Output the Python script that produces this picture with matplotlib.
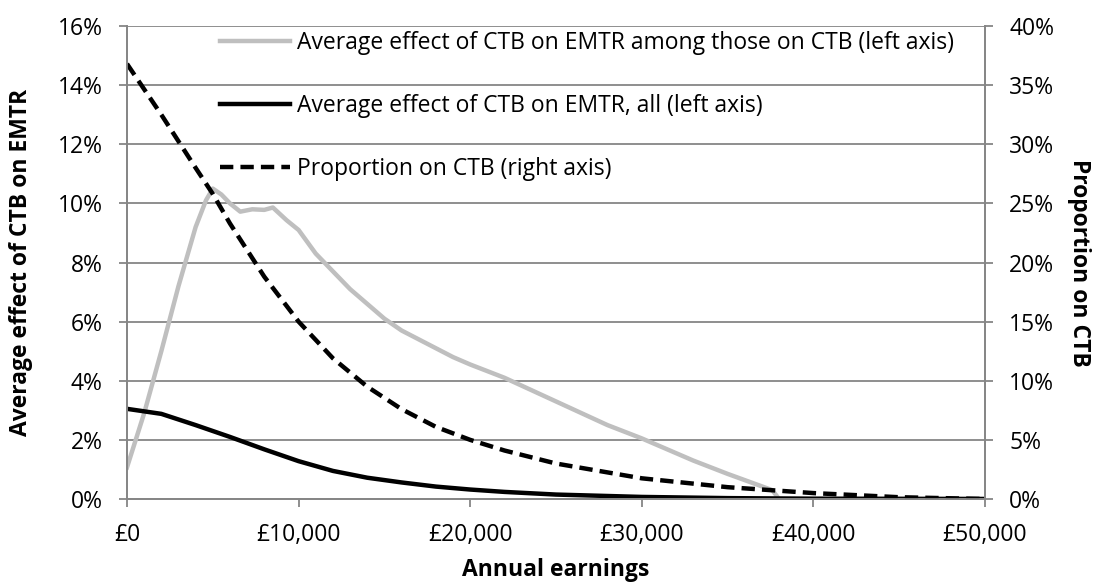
import numpy as np
import matplotlib
matplotlib.use("Agg")
import matplotlib.pyplot as plt
from matplotlib.ticker import FuncFormatter, MultipleLocator

plt.rcParams['font.family'] = ['Open Sans', 'DejaVu Sans']

# Average effect of CTB on EMTR among those on CTB (left axis, %)
earn_among = [0, 1000, 2000, 3000, 4000, 4600, 5000, 5500, 6000, 6600, 7300,
              8000, 8500, 9300, 10000, 11000, 12000, 13000, 14000, 15000,
              16000, 17000, 18000, 19000, 20000, 22000, 25000, 28000, 30000,
              33000, 35000, 37600, 38000, 50000]
emtr_among = [1.07, 2.9, 5.0, 7.2, 9.2, 10.1, 10.5, 10.3, 10.0, 9.72, 9.8,
              9.78, 9.86, 9.43, 9.1, 8.3, 7.7, 7.1, 6.6, 6.1,
              5.7, 5.4, 5.1, 4.8, 4.55, 4.1, 3.3, 2.5, 2.05,
              1.3, 0.85, 0.3, 0.0, 0.0]

# Average effect of CTB on EMTR, all (left axis, %)
earn_all = [0, 2000, 4000, 6000, 8000, 10000, 12000, 14000, 16000, 18000,
            20000, 22000, 25000, 30000, 35000, 40000, 50000]
emtr_all = [3.05, 2.88, 2.5, 2.1, 1.68, 1.28, 0.95, 0.72, 0.56, 0.42,
            0.32, 0.24, 0.15, 0.07, 0.03, 0.01, 0.0]

# Proportion on CTB (right axis, %)
earn_prop = [0, 2000, 4000, 5000, 6000, 8000, 10000, 12000, 14000, 16000,
             18000, 20000, 22000, 25000, 30000, 35000, 40000, 45000, 50000]
prop_ctb = [36.8, 32.5, 28.0, 25.8, 23.3, 18.8, 15.0, 11.9, 9.5, 7.6,
            6.1, 5.0, 4.1, 3.0, 1.75, 1.0, 0.5, 0.15, 0.0]

labels = ["Average effect of CTB on EMTR among those on CTB (left axis)",
          "Average effect of CTB on EMTR, all (left axis)",
          "Proportion on CTB (right axis)"]

grid_col = "#868686"
fs = 16.5

fig = plt.figure(figsize=(10.94, 5.84), dpi=100)
ax = fig.add_axes([127 / 1094, 1 - 499 / 584, (985 - 127) / 1094, (499 - 26) / 584])
ax2 = ax.twinx()

l1, = ax.plot(earn_among, emtr_among, color="#BFBFBF", lw=3.2, solid_joinstyle="round")
l2, = ax.plot(earn_all, emtr_all, color="black", lw=3.2)
l3, = ax2.plot(earn_prop, prop_ctb, color="black", lw=3.2, dashes=(3.0, 1.6))

ax.set_xlim(0, 50000)
ax.set_ylim(0, 16)
ax2.set_ylim(0, 40)
ax.xaxis.set_major_locator(MultipleLocator(10000))
ax.yaxis.set_major_locator(MultipleLocator(2))
ax2.yaxis.set_major_locator(MultipleLocator(5))
ax.xaxis.set_major_formatter(FuncFormatter(lambda v, p: "£{:,.0f}".format(v)))
ax.yaxis.set_major_formatter(FuncFormatter(lambda v, p: "%d%%" % v))
ax2.yaxis.set_major_formatter(FuncFormatter(lambda v, p: "%d%%" % v))

ax.grid(axis="y", color=grid_col, lw=1.3)
ax.set_axisbelow(True)
for a in (ax, ax2):
    a.spines["top"].set_visible(False)
    for s in ("left", "right", "bottom"):
        a.spines[s].set_color(grid_col)
        a.spines[s].set_linewidth(1.3)
    a.tick_params(colors=grid_col, labelcolor="black", labelsize=fs,
                  length=5.5, width=1.3, pad=12)
ax.tick_params(axis="x", pad=12)

ax.set_ylabel("Average effect of CTB on EMTR", fontsize=fs, fontweight="bold")
ax.yaxis.set_label_coords(-0.109, 0.5)
ax2.set_ylabel("Proportion on CTB", fontsize=fs, fontweight="bold",
               rotation=270, va="bottom")
ax2.yaxis.set_label_coords(1.095, 0.5)
ax.set_xlabel("Annual earnings", fontsize=fs, fontweight="bold")
ax.xaxis.set_label_coords(0.5, -0.125)

ax2.legend([l1, l2, l3], labels, loc="upper left",
           bbox_to_anchor=(220 / 1094, 1 - 31 / 584), bbox_transform=fig.transFigure,
           frameon=False, fontsize=fs, handlelength=3.05, handletextpad=0.3,
           labelspacing=1.71, borderpad=0, borderaxespad=0)

fig.savefig("out.png", dpi=100)
